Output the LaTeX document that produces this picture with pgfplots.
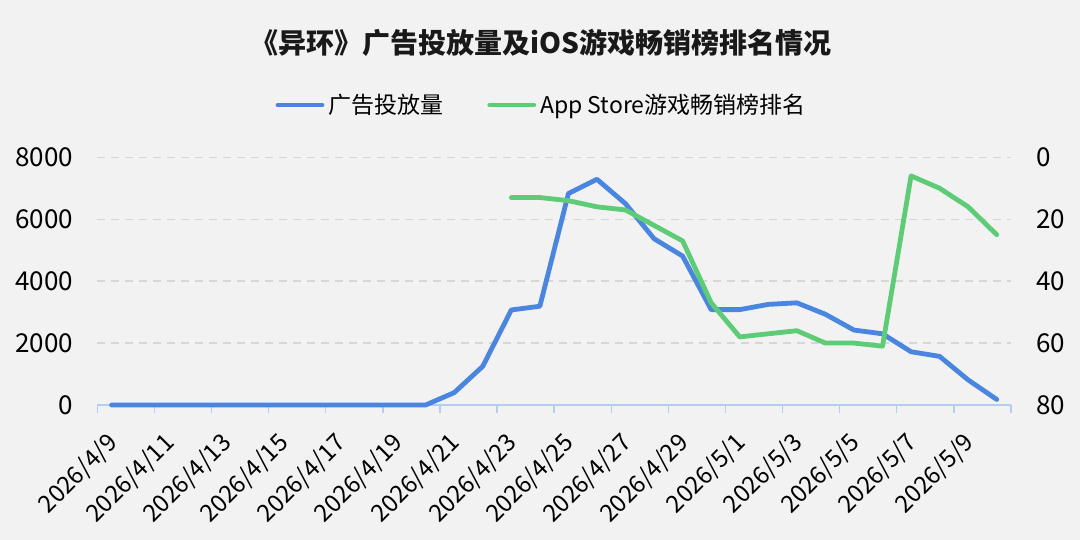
\documentclass[border=0pt]{standalone}
\usepackage{fontspec}
\setmainfont{Noto Sans CJK SC}
\usepackage{pgfplots}
\pgfplotsset{compat=1.18}
\definecolor{bgc}{HTML}{F2F2F2}
\definecolor{blueL}{HTML}{4A86E0}
\definecolor{greenL}{HTML}{5ECC76}
\definecolor{gridc}{HTML}{D6D6D6}
\definecolor{axc}{HTML}{B4CDEE}
\begin{document}
\begin{tikzpicture}
\fill[bgc] (0,0) rectangle (540bp,270bp);
\node[font=\fontsize{14bp}{16bp}\selectfont\bfseries, text=black!90] at (270.5bp,248.5bp) {《异环》广告投放量及iOS游戏畅销榜排名情况};
\begin{axis}[
  at={(48.65bp,67.5bp)}, anchor=south west,
  scale only axis, width=456.85bp, height=123.85bp,
  xmin=-0.5, xmax=31.5, ymin=0, ymax=8000,
  axis x line*=bottom, axis y line*=left,
  x axis line style={draw=axc, line width=0.8bp},
  y axis line style={draw=none},
  ytick={0,2000,4000,6000,8000},
  ymajorgrids, grid style={gridc, dashed, dash pattern=on 4bp off 3bp, line width=0.7bp},
  ytick style={draw=none},
  xtick={0,2,...,30},
  xticklabels={2026/4/9,2026/4/11,2026/4/13,2026/4/15,2026/4/17,2026/4/19,2026/4/21,2026/4/23,2026/4/25,2026/4/27,2026/4/29,2026/5/1,2026/5/3,2026/5/5,2026/5/7,2026/5/9},
  xtick style={draw=none},
  extra x ticks={-0.5,1.5,...,31.5},
  extra x tick labels={},
  extra x tick style={grid=none, tick align=outside, major tick length=4bp, xtick style={draw=axc, line width=0.7bp}},
  /pgf/number format/assume math mode=true,
  /pgf/number format/1000 sep={},
  yticklabel style={font=\fontsize{13bp}{15bp}\selectfont, anchor=east, inner sep=0pt, xshift=-12bp},
  xticklabel style={font=\fontsize{12bp}{14bp}\selectfont, inner sep=0pt, xshift=1bp, yshift=-17bp, rotate=45, anchor=east},
  legend columns=2,
  legend style={draw=none, fill=none, at={(0.4873,1.2111)}, anchor=center, font=\fontsize{11.5bp}{13bp}\selectfont, /tikz/every even column/.append style={column sep=20bp}},
  legend image code/.code={\draw[#1] (0bp,0bp) -- (22bp,0bp);},
  clip=false,
]
\addplot[blueL, line width=2.4bp, line join=round, line cap=round] coordinates {
(0,0) (1,0) (2,0) (3,0) (4,0) (5,0) (6,0) (7,0) (8,0) (9,0) (10,0) (11,0)
(12,400) (13,1250) (14,3070) (15,3190) (16,6830) (17,7290) (18,6500) (19,5370)
(20,4810) (21,3080) (22,3080) (23,3250) (24,3300) (25,2930) (26,2420) (27,2300)
(28,1720) (29,1570) (30,810) (31,180)
};
\addlegendentry{广告投放量}
\addlegendimage{greenL, line width=2.4bp, line cap=round}
\addlegendentry{App Store游戏畅销榜排名}
\end{axis}
\begin{axis}[
  at={(48.65bp,67.5bp)}, anchor=south west,
  scale only axis, width=456.85bp, height=123.85bp,
  xmin=-0.5, xmax=31.5, ymin=0, ymax=80, y dir=reverse,
  axis x line=none, axis y line*=right,
  y axis line style={draw=none},
  ytick={0,20,40,60,80},
  ytick style={draw=none},
  /pgf/number format/assume math mode=true,
  yticklabel style={font=\fontsize{13bp}{15bp}\selectfont, anchor=west, inner sep=0pt, xshift=12.5bp},
]
\addplot[greenL, line width=2.4bp, line join=round, line cap=round] coordinates {
(14,13) (15,13) (16,14) (17,16) (18,17) (19,22) (20,27) (21,47) (22,58) (23,57)
(24,56) (25,60) (26,60) (27,61) (28,6) (29,10) (30,16) (31,25)
};
\end{axis}
\pgfresetboundingbox
\path[use as bounding box] (0,0) rectangle (540bp,270bp);
\end{tikzpicture}
\end{document}
